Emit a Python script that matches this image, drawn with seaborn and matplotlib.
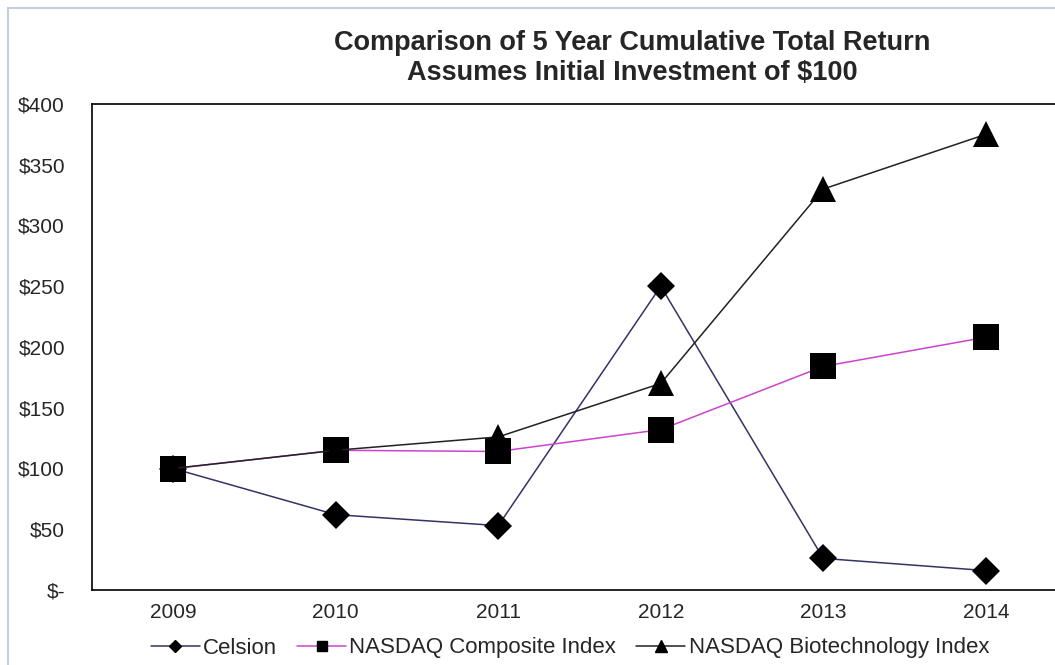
import matplotlib
matplotlib.use("Agg")
import pandas as pd
import seaborn as sns
import matplotlib.pyplot as plt
from matplotlib.lines import Line2D
from matplotlib.patches import Rectangle
from matplotlib.ticker import FuncFormatter

years = [2009, 2010, 2011, 2012, 2013, 2014]
celsion = [100, 62, 53, 250, 26, 16]
nasdaq_composite = [100, 115, 114, 132, 184, 208]
nasdaq_biotech = [100, 115, 126, 170, 330, 375]

series_names = ["Celsion", "NASDAQ Composite Index", "NASDAQ Biotechnology Index"]
line_colors = {"Celsion": "#333366",
               "NASDAQ Composite Index": "#cc44cc",
               "NASDAQ Biotechnology Index": "#222222"}
marker_map = {"Celsion": "D",
              "NASDAQ Composite Index": "s",
              "NASDAQ Biotechnology Index": "^"}
marker_sizes = {"Celsion": 14.5, "NASDAQ Composite Index": 18.5,
                "NASDAQ Biotechnology Index": 18.5}
legend_marker_sizes = {"Celsion": 6, "NASDAQ Composite Index": 7,
                       "NASDAQ Biotechnology Index": 8.5}

df = pd.DataFrame({
    "year": years * 3,
    "value": celsion + nasdaq_composite + nasdaq_biotech,
    "series": [s for s in series_names for _ in years],
})

sns.set_style("white")
plt.rcParams["font.family"] = ["Liberation Sans", "DejaVu Sans"]

fig = plt.figure(figsize=(10.55, 6.65), dpi=100)
ax = fig.add_axes([92 / 1055, 1 - 590 / 665, (1067 - 92) / 1055, (590 - 104) / 665])

for name in series_names:
    sub = df[df["series"] == name]
    sns.lineplot(data=sub, x="year", y="value", ax=ax, color=line_colors[name],
                 marker=marker_map[name], markersize=marker_sizes[name],
                 markerfacecolor="black", markeredgecolor="black",
                 markeredgewidth=0, linewidth=1.1, legend=False)

ax.set_xlim(2008.5, 2014.5)
ax.set_ylim(0, 400)
ax.set_xticks(years)
ax.set_xticks([y - 0.5 for y in years], minor=True)
ax.tick_params(axis="x", which="major", length=0, labelsize=15, pad=9)
ax.tick_params(axis="x", which="minor", length=7, width=1, color="black",
               direction="out")
ax.set_yticks(range(0, 401, 50))
ax.yaxis.set_major_formatter(FuncFormatter(lambda v, p: "$-" if v == 0 else f"${v:.0f}"))
ax.tick_params(axis="y", length=7, width=1, color="black", direction="out",
               labelsize=15, pad=12.5)
ax.set_xlabel("")
ax.set_ylabel("")
for side in ["left", "bottom", "top", "right"]:
    ax.spines[side].set_color("black")
    ax.spines[side].set_linewidth(1.2)

fig.text(632 / 1055, 1 - 43 / 665, "Comparison of 5 Year Cumulative Total Return",
         ha="center", va="center", fontsize=19.5, fontweight="bold")
fig.text(632 / 1055, 1 - 73 / 665, "Assumes Initial Investment of $100",
         ha="center", va="center", fontsize=19.5, fontweight="bold")

handles = [Line2D([0], [0], color=line_colors[n], marker=marker_map[n],
                  markerfacecolor="black", markeredgecolor="black",
                  markersize=legend_marker_sizes[n], linewidth=1.1)
           for n in series_names]
fig.legend(handles, series_names, loc="center", bbox_to_anchor=(570 / 1055, 1 - 648 / 665),
           ncol=3, frameon=False, fontsize=16, handlelength=2.2, handletextpad=0.15,
           columnspacing=0.9)

fig.patches.append(Rectangle((8 / 1055, -0.05), 1.1, 1 - 8 / 665 + 0.05,
                             transform=fig.transFigure, fill=False,
                             edgecolor="#c5cfdc", linewidth=1.5))

fig.savefig("out.png", dpi=100)
